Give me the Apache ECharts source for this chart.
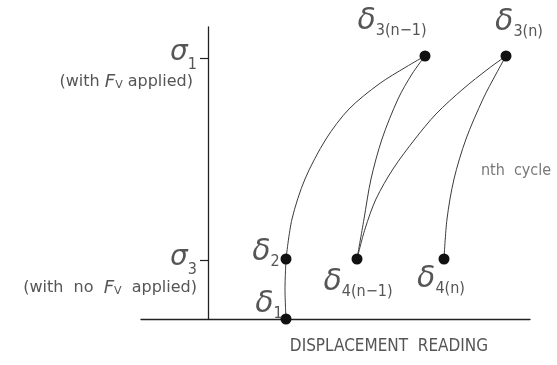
<!DOCTYPE html>
<html>
<head>
<meta charset="utf-8">
<title>Stress vs displacement</title>
<script src="https://cdn.jsdelivr.net/npm/echarts@6/dist/echarts.min.js"></script>
<style>
  html, body { margin: 0; padding: 0; background: #fff; }
  #main { width: 557px; height: 365px; }
</style>
</head>
<body>
<div id="main"></div>
<script>
// stress ticks on the vertical axis
const stressTicks = [59, 261];
const stressSubs = ['3', '1'];
const stressNotesBefore = ['(with  no  ', '(with '];
const stressNotesAfter = ['  applied)', ' applied)'];

// the six readings (displacement, stress)
const pointNames = ['1', '2', '3(n\u22121)', '3(n)', '4(n\u22121)', '4(n)'];
const pointX = [78, 78, 217, 298, 149, 236];
const pointY = [0, 60, 263, 263, 60, 60];

// curves
const curveD1D2 = [[78, 0], [77, 30], [78, 60]];
const curveD2D3 = [[78, 60], [84, 100], [97, 140], [118, 180], [141, 210], [171, 235], [198, 252], [217, 263]];
const curveUnload = [[149, 60], [156, 100], [163, 140], [174, 180], [190, 220], [204, 245], [217, 263]];
const curveReload = [[149, 60], [157, 90], [168, 120], [185, 150], [207, 180], [228, 205], [255, 230], [280, 250], [298, 263]];
const curveNth = [[236, 60], [239, 100], [246, 140], [258, 180], [275, 220], [288, 245], [298, 263]];

const noteText = 'nth  cycle';
const notePos = [308, 148];

const FONT = "'DejaVu Sans Condensed', 'Liberation Sans Narrow', 'DejaVu Sans', sans-serif";
const WIDE = "'DejaVu Sans', sans-serif";
const GREEK = "'DejaVu Sans', sans-serif";
const TXT = '#555';

// label offsets around each dot
const labelOffsets = [[-17, -15], [-20, -7], [-33, -35], [13, -34], [1, 23], [-3, 20]];

const chart = echarts.init(document.getElementById('main'));

const curveSeries = [curveD1D2, curveD2D3, curveUnload, curveReload, curveNth].map(c => ({
  type: 'line',
  data: c,
  smooth: 0.3,
  showSymbol: false,
  silent: true,
  lineStyle: { color: '#3a3a3a', width: 1 },
  z: 2
}));

const points = pointX.map((x, i) => ({
  value: [x, pointY[i]],
  label: {
    formatter: '{d|\u03b4}{s|' + pointNames[i] + '}',
    offset: labelOffsets[i]
  }
}));

chart.setOption({
  animation: false,
  grid: { left: 141, right: 27, top: 27, bottom: 46, containLabel: false, outerBoundsMode: 'none' },
  xAxis: {
    type: 'value',
    min: -67,
    max: 322,
    name: 'DISPLACEMENT  READING',
    nameLocation: 'middle',
    nameGap: 19,
    nameTextStyle: { fontFamily: FONT, fontSize: 17, color: TXT, padding: [0, 0, 0, 107] },
    axisLine: { lineStyle: { color: '#222', width: 1.3 } },
    axisTick: { show: false },
    axisLabel: { show: false },
    splitLine: { show: false }
  },
  yAxis: {
    type: 'value',
    min: 0,
    max: 292,
    name: 'STRESS',
    nameLocation: 'middle',
    nameRotate: 90,
    nameGap: 116,
    nameTextStyle: { fontFamily: FONT, fontSize: 17, color: TXT, padding: [0, 0, 0, 8] },
    axisLine: { onZero: true, lineStyle: { color: '#222', width: 1.3 } },
    axisTick: { customValues: stressTicks, length: 8, lineStyle: { color: '#222', width: 1.2 } },
    splitLine: { show: false },
    axisLabel: {
      customValues: stressTicks,
      margin: -56,
      align: 'right',
      formatter: v => {
        const i = stressTicks.indexOf(v);
        const k = i === 0 ? 'b' : 'a';
        return '{g' + k + '|\u03c3}{s' + k + '|' + stressSubs[i] + '}\n' +
          '{t' + k + '|' + stressNotesBefore[i] + '}{f' + k + '|F}{v' + k + '|V}{u' + k + '|' + stressNotesAfter[i] + '}';
      },
      rich: {
        ga: { fontFamily: GREEK, fontStyle: 'italic', fontSize: 28, color: TXT, lineHeight: 48 },
        sa: { fontFamily: FONT, fontSize: 16, color: TXT, lineHeight: 48, verticalAlign: 'bottom', padding: [0, 0, 4, 0] },
        ta: { fontFamily: WIDE, fontSize: 16, color: TXT, lineHeight: 10, padding: [0, 0, 0, 8] },
        ua: { fontFamily: WIDE, fontSize: 16, color: TXT, lineHeight: 10, padding: [0, 4, 0, 0] },
        fa: { fontFamily: WIDE, fontStyle: 'italic', fontSize: 18, color: TXT, lineHeight: 10 },
        va: { fontFamily: WIDE, fontSize: 11, color: TXT, lineHeight: 10, padding: [6, 0, 0, 0] },
        gb: { fontFamily: GREEK, fontStyle: 'italic', fontSize: 28, color: TXT, lineHeight: 56 },
        sb: { fontFamily: FONT, fontSize: 16, color: TXT, lineHeight: 56, verticalAlign: 'bottom', padding: [0, 0, 8, 0] },
        tb: { fontFamily: WIDE, fontSize: 16, color: TXT, lineHeight: 4, padding: [0, 0, 0, 12] },
        ub: { fontFamily: WIDE, fontSize: 16, color: TXT, lineHeight: 4 },
        fb: { fontFamily: WIDE, fontStyle: 'italic', fontSize: 18, color: TXT, lineHeight: 4 },
        vb: { fontFamily: WIDE, fontSize: 11, color: TXT, lineHeight: 4, padding: [6, 0, 0, 0] }
      }
    }
  },
  series: curveSeries.concat([
    {
      type: 'scatter',
      data: points,
      symbolSize: 11,
      itemStyle: { color: '#111', opacity: 1 },
      z: 5,
      label: {
        show: true,
        position: 'inside',
        align: 'center',
        verticalAlign: 'middle',
        rich: {
          d: { fontFamily: GREEK, fontStyle: 'italic', fontSize: 30, color: TXT, lineHeight: 36 },
          s: { fontFamily: FONT, fontSize: 16, color: TXT, lineHeight: 36, verticalAlign: 'bottom' }
        }
      }
    },
    {
      type: 'scatter',
      data: [notePos],
      symbolSize: 0,
      silent: true,
      label: {
        show: true,
        position: 'inside',
        formatter: noteText,
        fontFamily: FONT,
        fontSize: 16,
        color: TXT
      }
    }
  ])
});
</script>
</body>
</html>
